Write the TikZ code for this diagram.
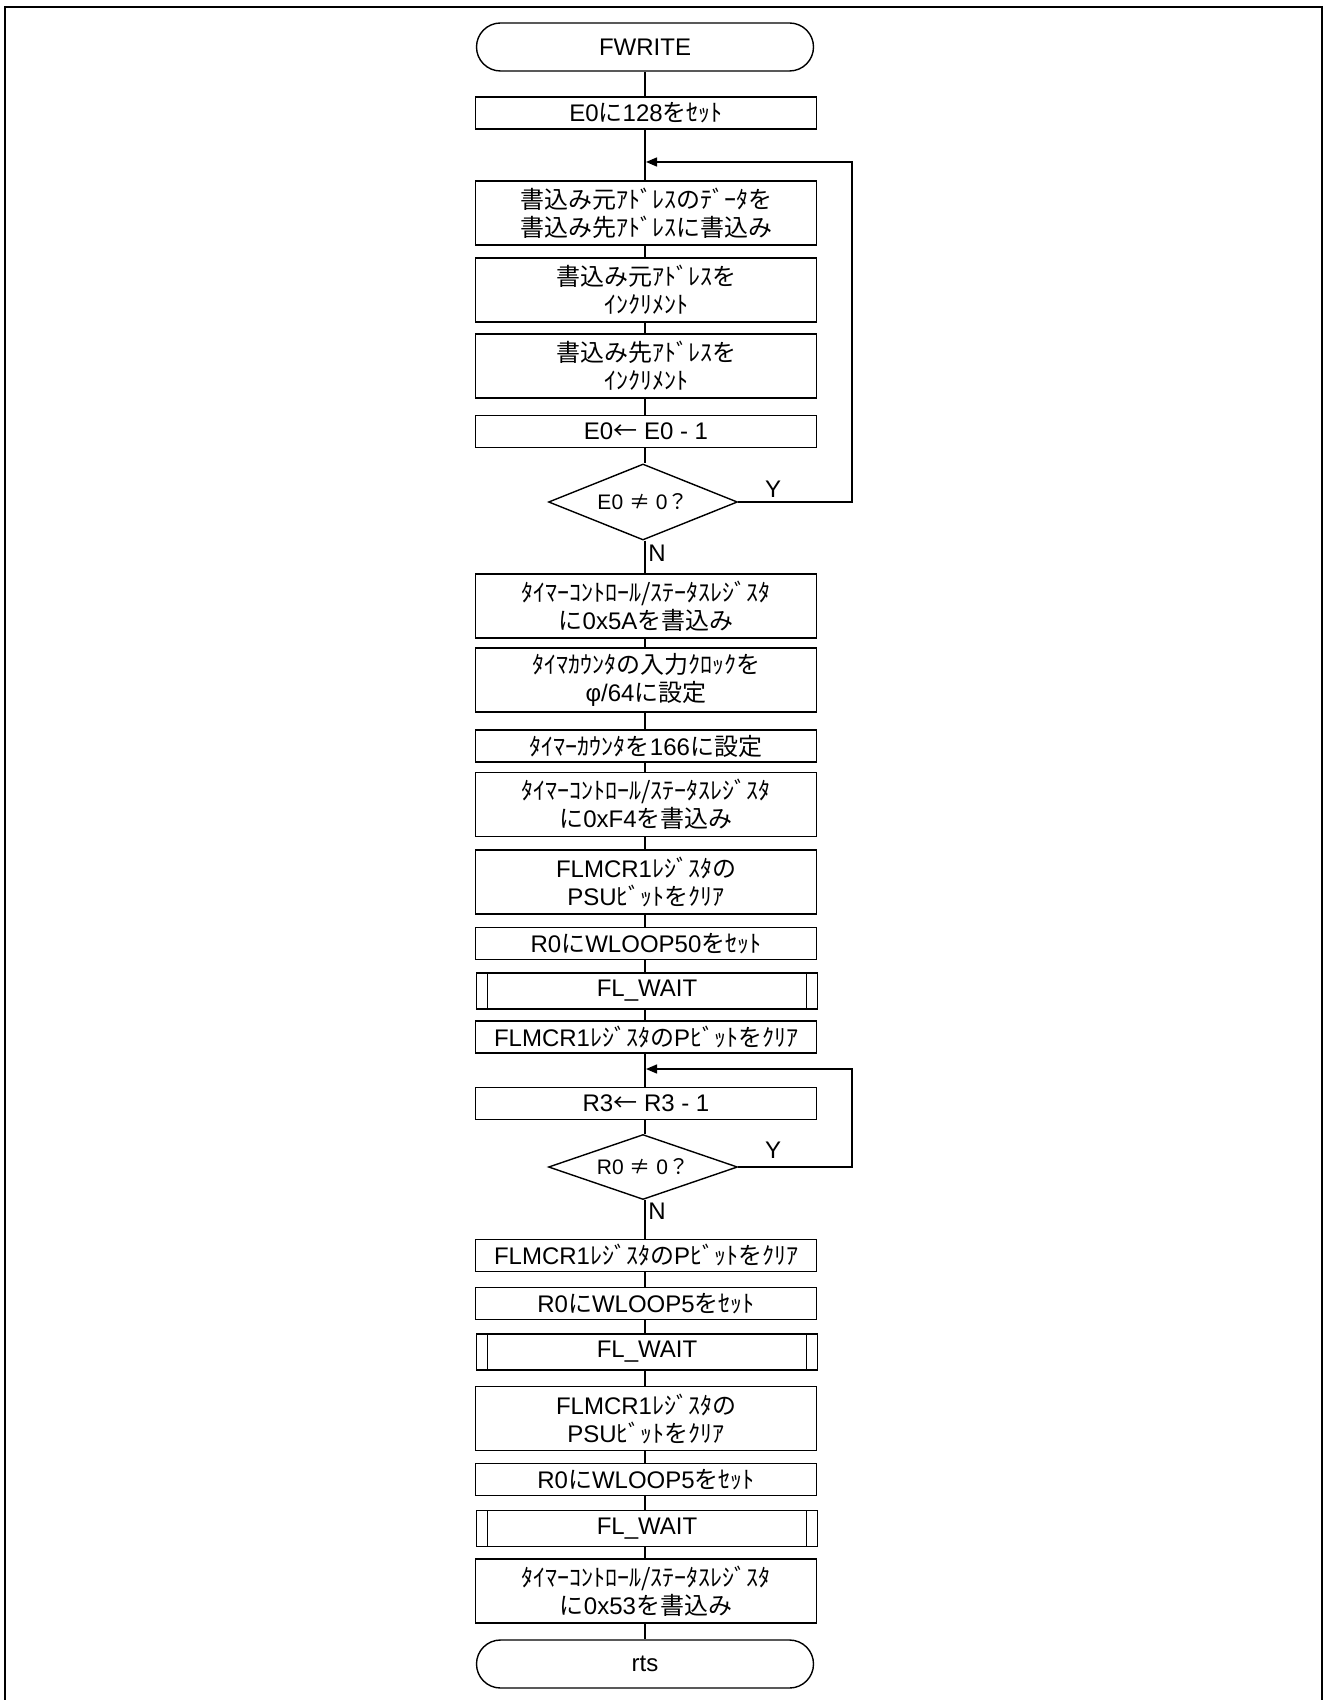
\documentclass[tikz,border=0pt]{standalone}
\usepackage{fontspec}
\setmainfont{Liberation Sans}
\newfontfamily\jpfont{Noto Sans CJK JP}
\newcommand\jp[1]{{\jpfont #1}}
\usetikzlibrary{arrows.meta,shapes.geometric}

\begin{document}
\begin{tikzpicture}[x=0.5pt,y=-0.5pt,
  every node/.style={font=\fontsize{12pt}{14pt}\selectfont,inner sep=0pt,align=center},
  proc/.style={draw,line width=0.7pt,minimum width=170.5pt,minimum height=16pt},
  proc2/.style={proc,minimum height=32pt},
  term/.style={proc,rounded corners=12pt,minimum width=168.5pt,minimum height=24pt},
  sub/.style={proc,minimum height=18pt,path picture={
    \draw[line width=0.7pt] ([xshift=5.5pt]path picture bounding box.north west) -- ([xshift=5.5pt]path picture bounding box.south west)
      ([xshift=-5.5pt]path picture bounding box.north east) -- ([xshift=-5.5pt]path picture bounding box.south east);}},
  dec/.style={draw,line width=0.7pt,diamond,aspect=2.5,minimum width=94.5pt,minimum height=38pt,font=\fontsize{10.5pt}{12pt}\selectfont},
  e/.style={line width=0.7pt},
  loop/.style={e,-{Triangle[length=5.5pt,width=4.5pt]}}]
  \useasboundingbox (0,0) rectangle (1324,1700);
  \draw[line width=1pt] (5,1700) -- (5,7) -- (1322,7) -- (1322,1700);

  % main column
  \node[term] (start) at (645,47) {FWRITE};
  \node[proc] (b1) at (646,113) {E0\jp{に}128\jp{をｾｯﾄ}};
  \node[proc2] (b2) at (646,213) {\jp{書込み元ｱﾄﾞﾚｽのﾃﾞｰﾀを}\\\jp{書込み先ｱﾄﾞﾚｽに書込み}};
  \node[proc2] (b3) at (646,290) {\jp{書込み元ｱﾄﾞﾚｽを}\\\jp{ｲﾝｸﾘﾒﾝﾄ}};
  \node[proc2] (b4) at (646,366) {\jp{書込み先ｱﾄﾞﾚｽを}\\\jp{ｲﾝｸﾘﾒﾝﾄ}};
  \node[proc] (b5) at (646,431.5) {E0\jp{←} E0 - 1};
  \node[dec] (d1) at (643,502) {E0 \jp{≠} 0\jp{？}};
  \node[proc2] (b6) at (646,606) {\jp{ﾀｲﾏｰｺﾝﾄﾛｰﾙ/ｽﾃｰﾀｽﾚｼﾞｽﾀ}\\\jp{に}0x5A\jp{を書込み}};
  \node[proc2] (b7) at (646,680) {\jp{ﾀｲﾏｶｳﾝﾀの入力ｸﾛｯｸを}\\φ/64\jp{に設定}};
  \node[proc] (b8) at (646,746) {\jp{ﾀｲﾏｰｶｳﾝﾀを}166\jp{に設定}};
  \node[proc2] (b9) at (646,804.5) {\jp{ﾀｲﾏｰｺﾝﾄﾛｰﾙ/ｽﾃｰﾀｽﾚｼﾞｽﾀ}\\\jp{に}0xF4\jp{を書込み}};
  \node[proc2] (b10) at (646,882) {FLMCR1\jp{ﾚｼﾞｽﾀの}\\PSU\jp{ﾋﾞｯﾄをｸﾘｱ}};
  \node[proc] (b11) at (646,943.5) {R0\jp{に}WLOOP50\jp{をｾｯﾄ}};
  \node[sub] (w1) at (647,991) {FL\_WAIT};
  \node[proc] (b12) at (646,1037) {FLMCR1\jp{ﾚｼﾞｽﾀの}P\jp{ﾋﾞｯﾄをｸﾘｱ}};
  \node[proc] (b13) at (646,1103.5) {R3\jp{←} R3 - 1};
  \node[dec,minimum height=32.5pt] (d2) at (643,1167) {R0 \jp{≠} 0\jp{？}};
  \node[proc] (b14) at (646,1255.5) {FLMCR1\jp{ﾚｼﾞｽﾀの}P\jp{ﾋﾞｯﾄをｸﾘｱ}};
  \node[proc] (b15) at (646,1303.5) {R0\jp{に}WLOOP5\jp{をｾｯﾄ}};
  \node[sub] (w2) at (647,1352) {FL\_WAIT};
  \node[proc2] (b16) at (646,1418.5) {FLMCR1\jp{ﾚｼﾞｽﾀの}\\PSU\jp{ﾋﾞｯﾄをｸﾘｱ}};
  \node[proc] (b17) at (646,1479.5) {R0\jp{に}WLOOP5\jp{をｾｯﾄ}};
  \node[sub] (w3) at (647,1528.5) {FL\_WAIT};
  \node[proc2] (b18) at (646,1591) {\jp{ﾀｲﾏｰｺﾝﾄﾛｰﾙ/ｽﾃｰﾀｽﾚｼﾞｽﾀ}\\\jp{に}0x53\jp{を書込み}};
  \node[term] (end) at (645,1664) {rts};

  \foreach \a/\b in {start/b1,b1/b2,b2/b3,b3/b4,b4/b5,b5/d1,d1/b6,b6/b7,b7/b8,b8/b9,b9/b10,b10/b11,
    b11/w1,w1/b12,b12/b13,b13/d2,d2/b14,b14/b15,b15/w2,w2/b16,b16/b17,b17/w3,w3/b18,b18/end}
    \draw[e] (\a.south -| 645,0) -- (\b.north -| 645,0);

  % loops back
  \coordinate (j1) at (646,162); \coordinate (c1) at (852,162);
  \coordinate (j2) at (646,1069); \coordinate (c2) at (852,1069);
  \draw[loop] (d1.east) -| (c1) -- (j1);
  \draw[loop] (d2.east) -| (c2) -- (j2);
  \node (y1) at (773,489) {Y};
  \node (y2) at (773,1150) {Y};
  \node[anchor=west] (n1) at (648,553) {N};
  \node[anchor=west] (n2) at (648,1211) {N};
\end{tikzpicture}
\end{document}
